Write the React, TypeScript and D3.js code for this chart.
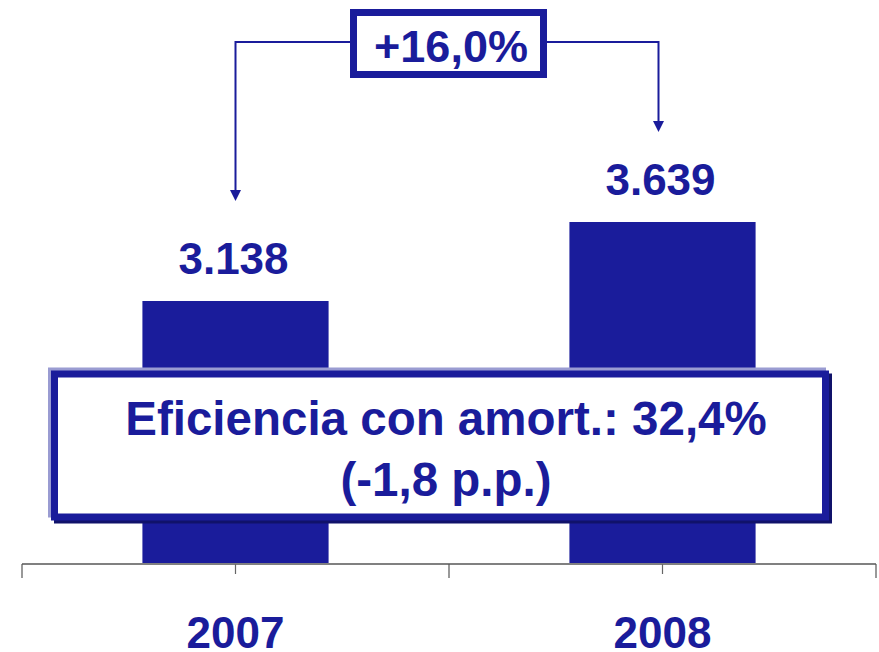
import React, { useEffect, useRef } from 'react';
import * as d3 from 'd3';

// chart data
const years = ['2007', '2008'];
const values = [3138, 3639];
const valueLabels = ['3.138', '3.639'];
const growthLabel = '+16,0%';
const noteLines = ['Eficiencia con amort.: 32,4%', '(-1,8 p.p.)'];
const axisMin = 1470; // value axis does not start at zero in the original

const BLUE = '#1a1c9b';
const FONT = '"Liberation Sans", Arial, sans-serif';

export default function App() {
    const node = useRef<SVGSVGElement>(null);

    useEffect(() => {
        const width = 879;
        const height = 652;
        const baseY = 564;

        const svg = d3.select(node.current)
            .attr('width', width)
            .attr('height', height);
        svg.selectAll('*').remove();

        svg.append('rect')
            .attr('width', width)
            .attr('height', height)
            .attr('fill', '#fff');

        const xScale = d3.scaleBand()
            .domain(years)
            .range([22, 876])
            .paddingInner(0.564)
            .paddingOuter(0.282);
        const yScale = d3.scaleLinear()
            .domain([axisMin, d3.max(values)])
            .range([baseY, 222]);
        const cx = (i) => xScale(years[i]) + xScale.bandwidth() / 2;

        // bars
        svg.append('g')
            .selectAll('rect')
            .data(values)
            .enter()
            .append('rect')
            .attr('x', (d, i) => xScale(years[i]))
            .attr('y', d => yScale(d))
            .attr('width', xScale.bandwidth())
            .attr('height', d => baseY - yScale(d))
            .attr('fill', BLUE);

        // value labels
        svg.append('g')
            .selectAll('text')
            .data(valueLabels)
            .enter()
            .append('text')
            .attr('x', (d, i) => cx(i) - 2)
            .attr('y', (d, i) => yScale(values[i]) - 27)
            .attr('text-anchor', 'middle')
            .attr('font-family', FONT)
            .attr('font-weight', 'bold')
            .attr('font-size', 44)
            .attr('fill', BLUE)
            .text(d => d);

        // x axis: line, category ticks and boundary ticks
        const axis = svg.append('g');
        axis.append('line')
            .attr('x1', 22).attr('x2', 876)
            .attr('y1', baseY).attr('y2', baseY)
            .attr('stroke', '#808080')
            .attr('stroke-width', 2);
        const step = xScale.step();
        const bounds = d3.range(years.length + 1).map(i => 22 + i * step);
        axis.selectAll('.bound')
            .data(bounds)
            .enter()
            .append('line')
            .attr('x1', d => d).attr('x2', d => d)
            .attr('y1', baseY).attr('y2', baseY + 14)
            .attr('stroke', '#555')
            .attr('stroke-width', 1.2);
        axis.selectAll('.mid')
            .data(years)
            .enter()
            .append('line')
            .attr('x1', (d, i) => cx(i)).attr('x2', (d, i) => cx(i))
            .attr('y1', baseY).attr('y2', baseY + 10)
            .attr('stroke', '#666')
            .attr('stroke-width', 1.2);
        axis.selectAll('text')
            .data(years)
            .enter()
            .append('text')
            .attr('x', (d, i) => cx(i))
            .attr('y', 648)
            .attr('text-anchor', 'middle')
            .attr('font-family', FONT)
            .attr('font-weight', 'bold')
            .attr('font-size', 44)
            .attr('fill', BLUE)
            .text(d => d);

        // growth connector with arrows
        const lineY = 42;
        const leftX = cx(0);
        const rightX = cx(1) - 4;
        const tipL = yScale(values[0]) - 100;
        const tipR = yScale(values[1]) - 90;
        const conn = svg.append('g')
            .attr('stroke', BLUE)
            .attr('stroke-width', 2)
            .attr('fill', 'none');
        conn.append('path')
            .attr('d', `M${leftX},${tipL - 10}V${lineY}H${rightX}V${tipR - 10}`);
        const arrowHead = (x, tip) => `M${x - 5.5},${tip - 11}L${x + 5.5},${tip - 11}L${x},${tip}Z`;
        svg.append('path').attr('d', arrowHead(leftX, tipL)).attr('fill', BLUE);
        svg.append('path').attr('d', arrowHead(rightX, tipR)).attr('fill', BLUE);

        // growth box
        svg.append('rect')
            .attr('x', 353.5).attr('y', 12.5)
            .attr('width', 190).attr('height', 62)
            .attr('fill', '#fff')
            .attr('stroke', BLUE)
            .attr('stroke-width', 7);
        svg.append('text')
            .attr('x', 451)
            .attr('y', 62)
            .attr('text-anchor', 'middle')
            .attr('font-family', FONT)
            .attr('font-weight', 'bold')
            .attr('font-size', 45)
            .attr('fill', BLUE)
            .text(growthLabel);

        // note box with bevel/shadow
        const bx = 54.5, by = 374, bw = 771, bh = 143;
        svg.append('rect')
            .attr('x', bx - 3).attr('y', by - 3)
            .attr('width', bw).attr('height', bh)
            .attr('fill', 'none')
            .attr('stroke', '#9a9cd2')
            .attr('stroke-width', 7);
        svg.append('rect')
            .attr('x', bx + 3).attr('y', by + 3)
            .attr('width', bw).attr('height', bh)
            .attr('fill', 'none')
            .attr('stroke', '#10126a')
            .attr('stroke-width', 7);
        svg.append('rect')
            .attr('x', bx).attr('y', by)
            .attr('width', bw).attr('height', bh)
            .attr('fill', '#fff')
            .attr('stroke', BLUE)
            .attr('stroke-width', 7);
        svg.append('g')
            .selectAll('text')
            .data(noteLines)
            .enter()
            .append('text')
            .attr('x', 446)
            .attr('y', (d, i) => 435 + i * 61)
            .attr('text-anchor', 'middle')
            .attr('font-family', FONT)
            .attr('font-weight', 'bold')
            .attr('font-size', 47.5)
            .attr('fill', BLUE)
            .text(d => d);
    }, []);

    return (
        <svg ref={node} style={{ position: 'absolute', left: 0, top: 0 }} />
    );
}
